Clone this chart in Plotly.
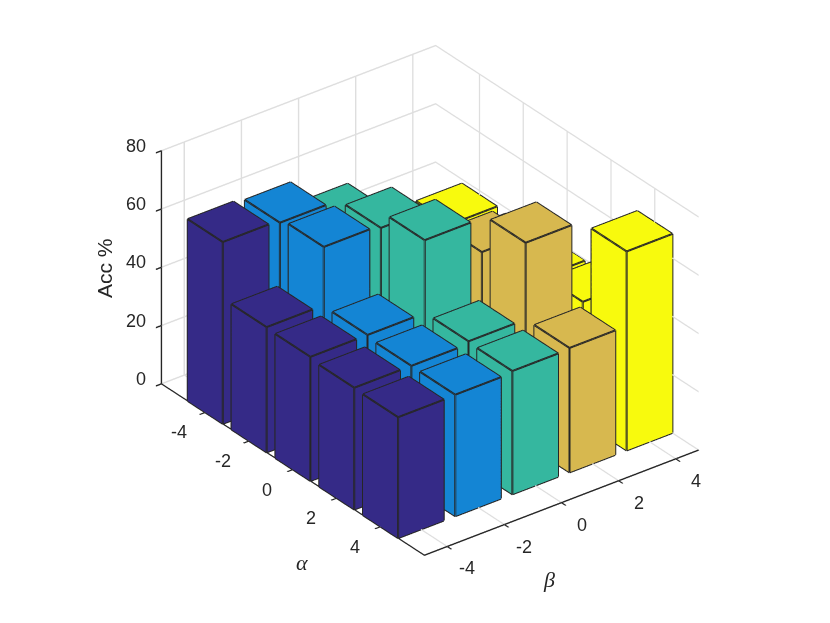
import plotly.graph_objects as go

alpha_vals = [-4, -2, 0, 2, 4]
beta_vals = [-4, -2, 0, 2, 4]
# acc[beta index][alpha index]
acc_beta_m4 = [62.4, 43.0, 42.6, 41.8, 41.5]
acc_beta_m2 = [61.5, 63.0, 42.6, 41.8, 41.7]
acc_beta_0 = [53.5, 62.0, 67.6, 42.7, 42.3]
acc_beta_2 = [40.0, 39.0, 56.0, 69.0, 42.7]
acc_beta_4 = [38.5, 38.0, 39.5, 41.2, 68.3]
acc = [acc_beta_m4, acc_beta_m2, acc_beta_0, acc_beta_2, acc_beta_4]
colors = ["#352A87", "#1485D4", "#35B79F", "#D7B84F", "#F8FA0D"]
z_ticks = [0, 20, 40, 60, 80]
half = 0.8
edge_color = "#262626"

fig = go.Figure()
for b, col, vals in zip(beta_vals, colors, acc):
    X, Y, Z, I, J, K = [], [], [], [], [], []
    ex, ey, ez = [], [], []
    for a, v in zip(alpha_vals, vals):
        y = -a
        n = len(X)
        x0, x1, y0, y1 = b - half, b + half, y - half, y + half
        X += [x0, x1, x1, x0, x0, x1, x1, x0]
        Y += [y0, y0, y1, y1, y0, y0, y1, y1]
        Z += [0, 0, 0, 0, v, v, v, v]
        tris = [(0,1,2),(0,2,3),(4,5,6),(4,6,7),(0,1,5),(0,5,4),(1,2,6),(1,6,5),(2,3,7),(2,7,6),(3,0,4),(3,4,7)]
        for t in tris:
            I.append(n + t[0]); J.append(n + t[1]); K.append(n + t[2])
        for p, q in [(0,1),(1,2),(2,3),(3,0),(4,5),(5,6),(6,7),(7,4),(0,4),(1,5),(2,6),(3,7)]:
            ex += [X[n+p], X[n+q], None]
            ey += [Y[n+p], Y[n+q], None]
            ez += [Z[n+p], Z[n+q], None]
    fig.add_trace(go.Mesh3d(x=X, y=Y, z=Z, i=I, j=J, k=K, color=col, flatshading=True,
                            lighting=dict(ambient=1, diffuse=0, specular=0, roughness=1, fresnel=0),
                            hoverinfo="skip", showscale=False))
    fig.add_trace(go.Scatter3d(x=ex, y=ey, z=ez, mode="lines", line=dict(color=edge_color, width=4),
                               hoverinfo="skip", showlegend=False))

common = dict(showbackground=False, showgrid=True, gridcolor="#DEDEDE", gridwidth=3, zeroline=False,
              showline=True, linecolor="#262626", linewidth=3, ticks="outside", ticklen=7,
              tickcolor="#262626", tickwidth=3, showticklabels=False, showspikes=False, title=dict(text=""))
r = 2.0
k = 1.387

tick_font = dict(family="Liberation Sans", size=18, color="#262626")
scene_ann = []
for v in z_ticks:
    scene_ann.append(dict(x=-4.8, y=6, z=v, text=str(v), showarrow=False, xanchor="right", yanchor="middle",
                          xshift=-13, yshift=5, font=tick_font))
for a in alpha_vals:
    scene_ann.append(dict(x=-4.8, y=-a, z=0, text=str(a), showarrow=False, xanchor="center", yanchor="middle",
                          xshift=-26, yshift=-20, font=tick_font))
for b in beta_vals:
    scene_ann.append(dict(x=b, y=-6, z=0, text=str(b), showarrow=False, xanchor="center", yanchor="middle",
                          xshift=20, yshift=-22, font=tick_font))

cx, cy, cz = -0.0177, 0.014, -0.071
fig.update_layout(
    width=830, height=623, margin=dict(l=0, r=0, t=0, b=0), paper_bgcolor="white", showlegend=False,
    scene=dict(
        domain=dict(x=[0, 1], y=[0, 1]),
        xaxis=dict(range=[-4.8, 4.8], tickvals=beta_vals, **common),
        yaxis=dict(range=[-6, 6], tickvals=[-a for a in alpha_vals], **common),
        zaxis=dict(range=[0, 80], tickvals=z_ticks, **common),
        aspectmode="manual", aspectratio=dict(x=0.8 * k, y=1 * k, z=0.623 * k),
        camera=dict(projection=dict(type="orthographic"), up=dict(x=0, y=0, z=1),
                    center=dict(x=cx, y=cy, z=cz),
                    eye=dict(x=-0.527 * r + cx, y=-0.687 * r + cy, z=0.5 * r + cz)),
        annotations=scene_ann,
    ),
    annotations=[
        dict(text="Acc %", x=96 / 830, y=1 - 260 / 623, xref="paper", yref="paper", showarrow=False, textangle=-90,
             xanchor="center", yanchor="middle",
             font=dict(family="Liberation Sans", size=21, color="#262626")),
        dict(text="<i>α</i>", x=294 / 830, y=1 - 554 / 623, xref="paper", yref="paper", showarrow=False,
             xanchor="center", yanchor="middle",
             font=dict(family="Liberation Serif", size=22, color="#262626")),
        dict(text="<i>β</i>", x=541 / 830, y=1 - 571 / 623, xref="paper", yref="paper", showarrow=False,
             xanchor="center", yanchor="middle",
             font=dict(family="Liberation Serif", size=22, color="#262626")),
    ],
)
fig.write_html("out.html")
